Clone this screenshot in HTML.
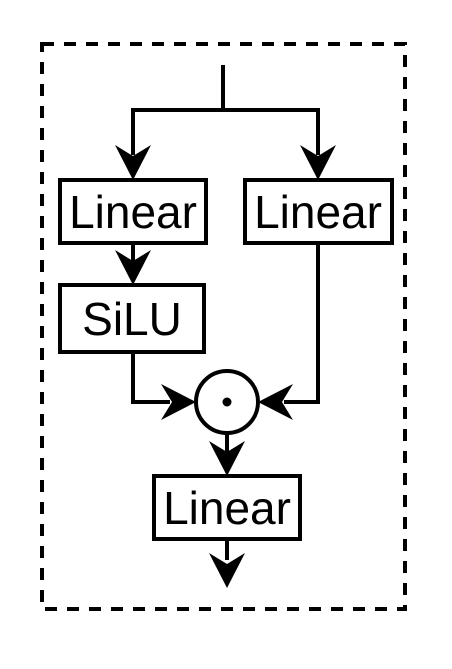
<!DOCTYPE html>
<html><head><style>html,body{margin:0;padding:0;background:#fff;}</style></head>
<body>
<svg width="452" height="664" viewBox="0 0 452 664" xmlns="http://www.w3.org/2000/svg">
<rect x="42" y="44" width="363" height="565" fill="none" stroke="#000" stroke-width="4" stroke-dasharray="12 10"/>
<g stroke="#000" stroke-width="4" fill="none">
<polyline points="223,65 223,110"/>
<polyline points="133,155 133,110 318,110 318,155"/>
<line x1="133" y1="243" x2="133" y2="262"/>
<polyline points="133,352 133,402 170,402"/>
<polyline points="318,243 318,402 284,402"/>
<line x1="227" y1="433" x2="227" y2="452"/>
<line x1="227" y1="539" x2="227" y2="560"/>
<rect x="60" y="180" width="146" height="63" fill="#fff"/>
<rect x="245" y="180" width="147" height="63" fill="#fff"/>
<rect x="60" y="285" width="144" height="67" fill="#fff"/>
<rect x="154" y="476" width="146" height="63" fill="#fff"/>
<circle cx="227" cy="402" r="31" fill="#fff"/>
</g>
<g fill="#000">
<path d="M133,180 L115,145 L133,156 L151,145 Z"/>
<path d="M318,180 L300,145 L318,156 L336,145 Z"/>
<path d="M133,285 L115,250 L133,261 L151,250 Z"/>
<path d="M227,476 L209,441 L227,452 L245,441 Z"/>
<path d="M227,588 L209,553 L227,564 L245,553 Z"/>
<path d="M196,402 L161,384 L172,402 L161,420 Z"/>
<path d="M258,402 L293,384 L282,402 L293,420 Z"/>
<circle cx="227" cy="402" r="4.5"/>
</g>
<g font-family="Liberation Sans, Arial, sans-serif" font-size="46" text-anchor="middle" fill="#000">
<text x="133" y="228">Linear</text>
<text x="318" y="228">Linear</text>
<text x="132" y="335">SiLU</text>
<text x="227" y="524">Linear</text>
</g>
</svg>
</body></html>
